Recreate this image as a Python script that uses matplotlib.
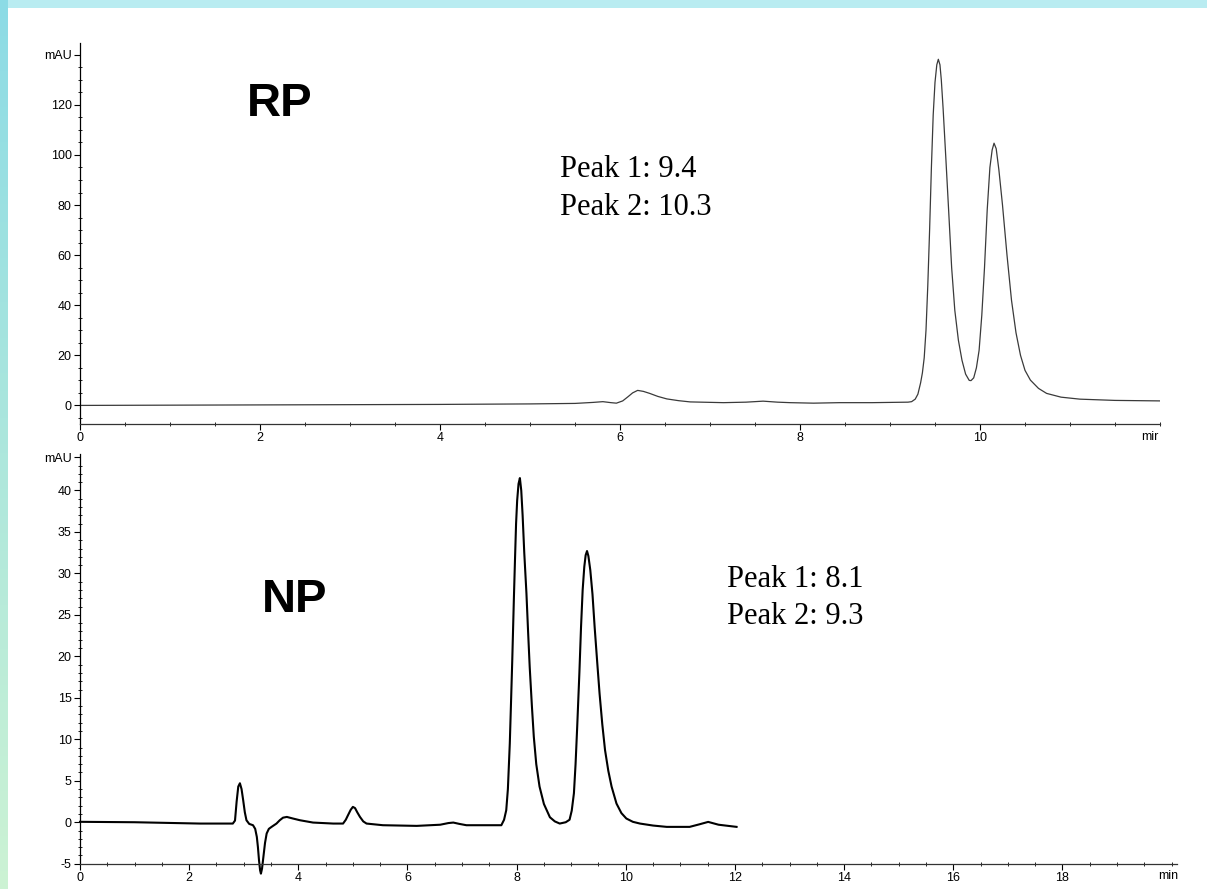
import numpy as np
import matplotlib
matplotlib.use("Agg")
import matplotlib.pyplot as plt
from matplotlib.patches import Rectangle
from matplotlib.ticker import MultipleLocator

# ---------------- data ----------------
rp_time = [0.0, 1.0, 2.0, 3.0, 4.0, 5.0, 5.5, 5.7, 5.81, 5.9, 5.96, 6.03, 6.09, 6.14, 6.196,
           6.26, 6.33, 6.42, 6.52, 6.65, 6.78, 7.15, 7.4, 7.59, 7.75, 7.89, 8.15, 8.44, 8.8,
           9.0, 9.2, 9.24, 9.28, 9.31, 9.34, 9.36, 9.38, 9.40, 9.42, 9.44, 9.46, 9.48, 9.50,
           9.52, 9.537, 9.555, 9.57, 9.59, 9.62, 9.65, 9.685, 9.72, 9.76, 9.80, 9.84, 9.88,
           9.90, 9.93, 9.96, 9.99, 10.02, 10.05, 10.08, 10.11, 10.135, 10.156, 10.18, 10.21,
           10.25, 10.30, 10.35, 10.40, 10.45, 10.50, 10.56, 10.65, 10.74, 10.9, 11.11, 11.5,
           12.0]
rp_signal = [0.0, 0.1, 0.2, 0.3, 0.4, 0.6, 0.8, 1.2, 1.5, 1.1, 0.9, 1.8, 3.5, 5.0, 6.0,
             5.6, 4.8, 3.6, 2.6, 1.9, 1.4, 1.1, 1.3, 1.7, 1.3, 1.1, 0.9, 1.1, 1.1,
             1.2, 1.3, 1.5, 2.5, 4.5, 9.0, 13.0, 19.0, 30.0, 48.0, 70.0, 95.0, 116.0, 129.0,
             136.0, 138.2, 136.0, 130.0, 118.6, 99.0, 78.9, 55.0, 38.0, 26.0, 18.0, 12.5, 10.0,
             9.9, 11.0, 15.0, 22.0, 36.0, 55.0, 78.0, 95.0, 102.0, 104.7, 102.5, 94.0,
             80.0, 60.0, 42.0, 29.0, 20.0, 14.0, 10.1, 6.8, 4.8, 3.3, 2.5, 2.0,
             1.8]

np_time = [0.0, 1.0, 2.2, 2.80, 2.84, 2.87, 2.90, 2.93, 2.96, 2.99, 3.02, 3.05, 3.10, 3.17,
           3.21, 3.24, 3.26, 3.28, 3.30, 3.315, 3.335, 3.36, 3.39, 3.42, 3.46, 3.51, 3.60,
           3.66, 3.72, 3.79, 3.9, 4.03, 4.27, 4.64, 4.82, 4.87, 4.91, 4.96, 5.0, 5.04, 5.08,
           5.13, 5.19, 5.25, 5.55, 6.17, 6.6, 6.75, 6.84, 6.95, 7.08, 7.69, 7.72, 7.77, 7.81,
           7.84, 7.875, 7.90, 7.92, 7.95, 7.97, 7.99, 8.01, 8.035, 8.06, 8.085, 8.11, 8.14,
           8.18, 8.21, 8.24, 8.28, 8.315, 8.36, 8.42, 8.5, 8.61, 8.70, 8.79, 8.90, 8.97, 9.01,
           9.05, 9.08, 9.11, 9.15, 9.18, 9.21, 9.24, 9.265, 9.29, 9.315, 9.35, 9.39, 9.43,
           9.48, 9.52, 9.57, 9.62, 9.68, 9.74, 9.83, 9.92, 10.01, 10.13, 10.26, 10.5, 10.75,
           11.17, 11.35, 11.51, 11.7, 12.03]
np_signal = [0.05, 0.0, -0.16, -0.16, 0.2, 2.5, 4.3, 4.7, 4.0, 2.65, 1.2, 0.24, -0.2, -0.36,
             -0.8, -1.77, -3.0, -4.6, -5.8, -6.2, -5.6, -4.2, -2.5, -1.36, -0.8, -0.56, -0.16,
             0.24, 0.55, 0.64, 0.45, 0.24, -0.04, -0.16, -0.16, 0.3, 0.84, 1.5, 1.85, 1.7, 1.2,
             0.64, 0.1, -0.16, -0.36, -0.44, -0.3, -0.1, -0.04, -0.2, -0.36, -0.36, -0.36, 0.3, 1.45,
             4.0, 9.5, 15.0, 19.5, 27.0, 31.6, 36.0, 38.8, 40.8, 41.5, 40.0, 37.0, 32.5,
             27.6, 23.0, 18.7, 14.0, 10.3, 7.0, 4.3, 2.2, 0.6, 0.1, -0.16, 0.0, 0.3, 1.4,
             3.5, 7.0, 11.5, 18.0, 23.5, 28.0, 30.8, 32.2, 32.7, 32.1, 30.4, 27.5, 23.5,
             19.0, 15.5, 11.8, 8.7, 6.2, 4.3, 2.25, 1.1, 0.45, 0.05, -0.16, -0.4, -0.56,
             -0.56, -0.25, 0.04, -0.3, -0.56]

rp_yticks = [0, 20, 40, 60, 80, 100, 120, 140]
rp_yticklabels = ["0", "20", "40", "60", "80", "100", "120", "mAU"]
rp_xticks = [0, 2, 4, 6, 8, 10]
np_yticks = [-5, 0, 5, 10, 15, 20, 25, 30, 35, 40, 44]
np_yticklabels = ["-5", "0", "5", "10", "15", "20", "25", "30", "35", "40", "mAU"]
np_xticks = [0, 2, 4, 6, 8, 10, 12, 14, 16, 18]

rp_notes = ["Peak 1: 9.4", "Peak 2: 10.3"]
np_notes = ["Peak 1: 8.1", "Peak 2: 9.3"]

# ---------------- figure ----------------
W, H = 1207, 889
fig = plt.figure(figsize=(W / 100, H / 100), dpi=100)
fig.patch.set_facecolor("#b9ecf1")

# slide background: left strip gradient, light cyan top strip, white panel
bg = fig.add_axes([0, 0, 1, 1], zorder=-10)
bg.set_axis_off()
bg.set_xlim(0, 1)
bg.set_ylim(0, 1)
grad = np.zeros((100, 1, 3))
top_c = np.array([0.55, 0.86, 0.90])
bot_c = np.array([0.80, 0.95, 0.83])
for i in range(100):
    f = i / 99
    grad[i, 0, :] = top_c * (1 - f) + bot_c * f
bg.imshow(grad, extent=[0, 8 / W, 0, 1], aspect="auto", origin="upper")
bg.add_patch(Rectangle((8 / W, 0), 1, 1 - 8 / H, facecolor="white", edgecolor="none"))


def style_axes(ax):
    for s in ["top", "right"]:
        ax.spines[s].set_visible(False)
    ax.spines["left"].set_linewidth(0.9)
    ax.spines["bottom"].set_linewidth(0.9)
    ax.spines["bottom"].set_color("#333333")
    ax.set_facecolor("none")
    ax.tick_params(axis="both", which="major", direction="out", length=4, width=0.8,
                   labelsize=9, pad=2)
    ax.tick_params(axis="both", which="minor", direction="inout", length=3, width=0.6)
    for lbl in ax.get_xticklabels() + ax.get_yticklabels():
        lbl.set_fontfamily("Liberation Sans")


# ---- top: RP ----
ax1 = fig.add_axes([80 / W, 1 - 423.7 / H, (1160 - 80) / W, (423.7 - 43) / H])
ax1.plot(rp_time, rp_signal, color="#3a3a3a", lw=0.9)
ax1.set_xlim(0, 12.0)
ax1.set_ylim(-7.3, 144.7)
ax1.set_yticks(rp_yticks)
ax1.set_yticklabels(rp_yticklabels)
ax1.set_xticks(rp_xticks)
ax1.set_xticklabels([str(t) for t in rp_xticks])
ax1.yaxis.set_minor_locator(MultipleLocator(5))
ax1.xaxis.set_minor_locator(MultipleLocator(0.5))
style_axes(ax1)
fig.text(280 / W, 1 - 104.5 / H, "RP", fontsize=34, fontweight="bold",
         family="Liberation Sans", ha="center", va="center")
fig.text(560 / W, 1 - 177 / H, rp_notes[0], fontsize=22, family="Liberation Serif",
         ha="left", va="baseline")
fig.text(560 / W, 1 - 215 / H, rp_notes[1], fontsize=22, family="Liberation Serif",
         ha="left", va="baseline")
fig.text(1150 / W, 1 - 437 / H, "mir", fontsize=9, family="Liberation Sans",
         ha="center", va="center")

# ---- bottom: NP ----
ax2 = fig.add_axes([80 / W, 1 - 863.7 / H, (1177 - 80) / W, (863.7 - 454) / H])
ax2.plot(np_time, np_signal, color="black", lw=1.5, clip_on=False)
ax2.set_xlim(0, 20.1)
ax2.set_ylim(-5, 44.4)
ax2.set_yticks(np_yticks)
ax2.set_yticklabels(np_yticklabels)
ax2.set_xticks(np_xticks)
ax2.set_xticklabels([str(t) for t in np_xticks])
ax2.yaxis.set_minor_locator(MultipleLocator(1))
ax2.xaxis.set_minor_locator(MultipleLocator(0.5))
style_axes(ax2)
fig.text(295 / W, 1 - 600.5 / H, "NP", fontsize=34, fontweight="bold",
         family="Liberation Sans", ha="center", va="center")
fig.text(727 / W, 1 - 587 / H, np_notes[0], fontsize=22, family="Liberation Serif",
         ha="left", va="baseline")
fig.text(727 / W, 1 - 624 / H, np_notes[1], fontsize=22, family="Liberation Serif",
         ha="left", va="baseline")
fig.text(1168 / W, 1 - 876 / H, "min", fontsize=9, family="Liberation Sans",
         ha="center", va="center")

fig.savefig("out.png", dpi=100)
